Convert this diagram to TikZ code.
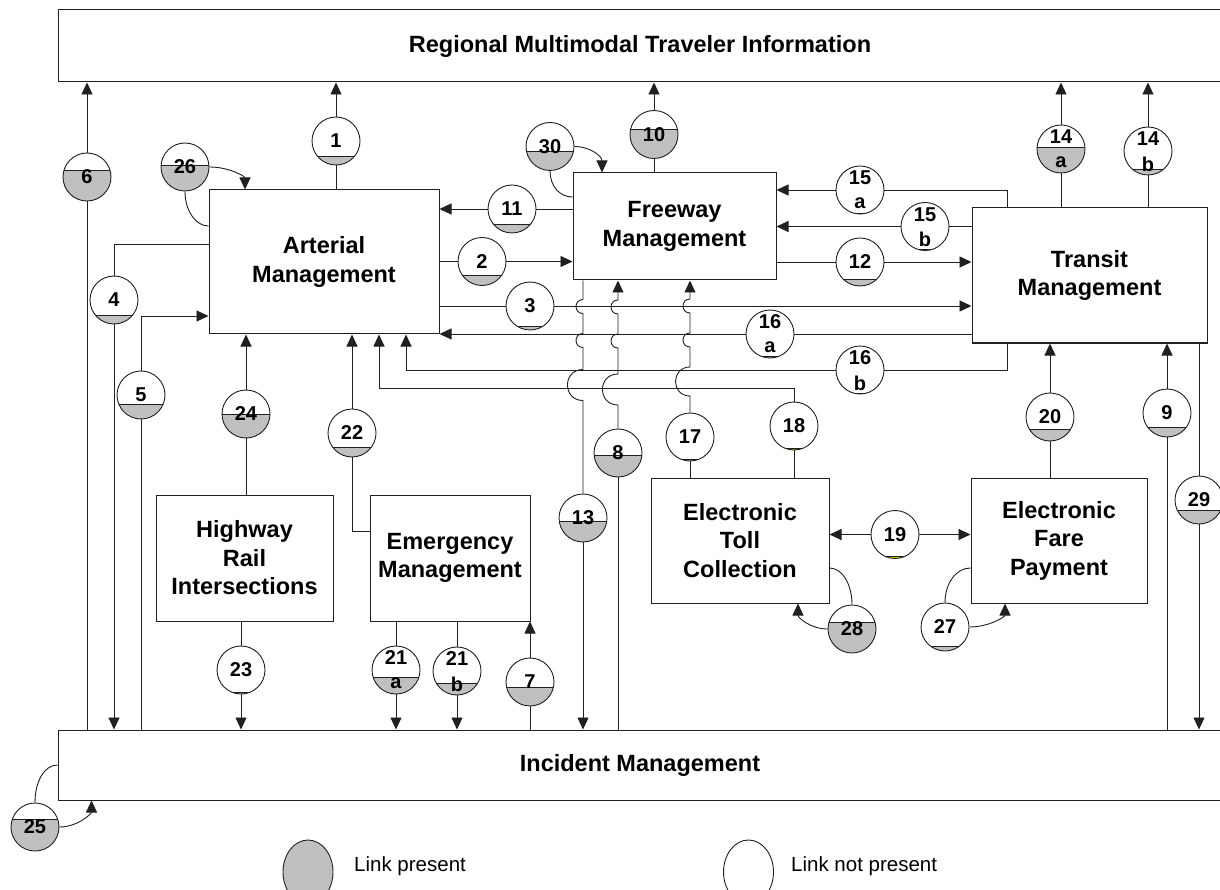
\documentclass[tikz,border=0pt]{standalone}
\usepackage{fontspec}
\setmainfont{Liberation Sans}
\usetikzlibrary{arrows.meta,shapes.geometric}
\definecolor{lp}{HTML}{C0C0C0}
\definecolor{ly}{HTML}{D8D800}
\definecolor{ln}{HTML}{202020}
\newcommand\boxfont{\bfseries\fontsize{23.5}{28.5}\selectfont}
\newcommand\numfont{\bfseries\fontsize{20}{22}\selectfont}
\newcommand\legfont{\fontsize{20.5}{24}\selectfont}
\tikzset{
  box/.style={draw=ln, line width=1pt, rectangle, inner sep=0pt, align=center, font=\boxfont},
  lk/.style={circle, draw=ln, line width=0.9pt, fill=white, minimum size=48pt, inner sep=0pt},
  num/.style={inner sep=0pt, font=\numfont},
  arr/.style={-{Triangle[length=12pt,width=11pt]}},
  conn/.style={draw=ln, line width=0.9pt}
}
\newcommand\lnk[6]{%
  \node[lk, path picture={
     \fill[#6] ([shift={(-30,#4)}]path picture bounding box.center) rectangle ([shift={(30,30)}]path picture bounding box.center);
     \draw[ln, line width=0.8pt] ([shift={(-30,#4)}]path picture bounding box.center) -- ([shift={(30,#4)}]path picture bounding box.center);
  }] (#1) at (#2,#3) {};
  \node[num] (#1t) at (#1.center) {#5};
}
\newcommand\lnkk[7]{%
  \node[lk, path picture={
     \fill[#7] ([shift={(-30,#4)}]path picture bounding box.center) rectangle ([shift={(30,30)}]path picture bounding box.center);
     \draw[ln, line width=0.8pt] ([shift={(-30,#4)}]path picture bounding box.center) -- ([shift={(30,#4)}]path picture bounding box.center);
  }] (#1) at (#2,#3) {};
  \node[num] (#1n) at ([yshift=12pt]#1.center) {#5};
  \node[num] (#1l) at ([yshift=-13pt]#1.center) {#6};
}
\begin{document}
\begin{tikzpicture}[x=1pt,y=-1pt]
\useasboundingbox (0,0) rectangle (1220,890);
\fill[white] (0,0) rectangle (1220,890);
\clip (0,0) rectangle (1220,890);

% boxes
\node[box, minimum width=1164pt, minimum height=72pt] (reg) at (640,46) {Regional Multimodal Traveler Information};
\node[box, minimum width=1164pt, minimum height=70pt] (inc) at (640,765) {Incident Management};
\node[box, minimum width=230pt, minimum height=144pt] (art) at (324,262) {Arterial\\Management};
\node[box, minimum width=203pt, minimum height=107pt] (fwy) at (674.5,226.5) {Freeway\\Management};
\node[box, minimum width=235pt, minimum height=135pt] (trn) at (1089.5,275.5) {Transit\\Management};
\node[box, minimum width=177pt, minimum height=126pt] (hri) at (244.5,558) {Highway\\Rail\\Intersections};
\node[box, minimum width=160pt, minimum height=126pt] (emg) at (450,558) {Emergency\\Management};
\node[box, minimum width=178pt, minimum height=125pt] (etc) at (740,540.5) {Electronic\\Toll\\Collection};
\node[box, minimum width=176pt, minimum height=125pt] (efp) at (1059,540.5) {Electronic\\Fare\\Payment};

% link circles
\lnk{c1}{336}{141}{15}{1}{lp}
\lnk{c6}{87}{177}{-7}{6}{lp}
\lnk{c26}{185}{167}{-2}{26}{lp}
\lnk{c4}{114}{300}{15}{4}{lp}
\lnk{c5}{141}{395}{9}{5}{lp}
\lnk{c24}{246}{414}{0}{24}{lp}
\lnk{c22}{352}{433}{14.5}{22}{lp}
\lnk{c23}{241}{670}{22}{23}{lp}
\lnkk{c21a}{396}{670}{7}{21}{a}{lp}
\lnkk{c21b}{457}{671}{12}{21}{b}{lp}
\lnk{c7}{530}{682}{5}{7}{lp}
\lnk{c13}{583}{518}{3}{13}{lp}
\lnk{c8}{618}{453}{2}{8}{lp}
\lnk{c17}{690}{437}{22}{17}{lp}
\lnk{c18}{794}{426}{22}{18}{ly}
\lnk{c19}{895}{534.5}{22}{19}{ly}
\lnk{c20}{1050}{417}{12}{20}{lp}
\lnk{c9}{1167}{413}{14.5}{9}{lp}
\lnk{c29}{1199}{500}{10}{29}{lp}
\lnk{c28}{852}{629}{-7}{28}{lp}
\lnk{c27}{945}{627}{19}{27}{lp}
\lnk{c10}{654}{134.5}{-5}{10}{lp}
\lnk{c30}{550}{146.5}{5}{30}{lp}
\lnk{c11}{512}{209}{15}{11}{lp}
\lnk{c2}{482}{261.5}{14}{2}{lp}
\lnk{c3}{530}{306}{20}{3}{lp}
\lnkk{c16a}{770}{334}{22.5}{16}{a}{lp}
\lnkk{c15a}{860}{190}{23}{15}{a}{ly}
\lnkk{c15b}{925}{226.5}{23}{15}{b}{lp}
\lnk{c12}{860}{262}{17}{12}{lp}
\lnkk{c16b}{860}{370}{23}{16}{b}{lp}
\lnkk{c14a}{1061}{149}{-2}{14}{a}{lp}
\lnkk{c14b}{1148}{151}{18}{14}{b}{lp}
\lnk{c25}{35}{827}{-7.5}{25}{lp}

% connectors
% 1
\draw[conn] (art.north -| c1) -- (c1);
\draw[conn,arr] (c1) -- (reg.south -| c1);
% 6
\draw[conn] (inc.north -| c6) -- (c6);
\draw[conn,arr] (c6) -- (reg.south -| c6);
% 26
\draw[conn] ([yshift=36pt]art.west) .. controls +(-13,0) and +(0,19) .. (c26.south);
\draw[conn,arr] (c26.east) .. controls +(20,0) and +(0,-13) .. ([xshift=-79pt]art.north);
% 4
\draw[conn] ([yshift=18pt]art.west) -| (c4);
\draw[conn,arr] (c4) -- (inc.north -| c4);
% 5
\draw[conn] (inc.north -| c5) -- (c5);
\draw[conn,arr] (c5) |- ([yshift=-54pt]art.west);
% 24
\draw[conn] (hri.north -| c24) -- (c24);
\draw[conn,arr] (c24) -- (art.south -| c24);
% 22
\draw[conn] ([yshift=26.5pt]emg.west) -| (c22);
\draw[conn,arr] (c22) -- (art.south -| c22);
% 23
\draw[conn] (hri.south -| c23) -- (c23);
\draw[conn,arr] (c23) -- (inc.north -| c23);
% 21a 21b
\draw[conn] (emg.south -| c21a) -- (c21a);
\draw[conn,arr] (c21a) -- (inc.north -| c21a);
\draw[conn] (emg.south -| c21b) -- (c21b);
\draw[conn,arr] (c21b) -- (inc.north -| c21b);
% 7
\draw[conn] (inc.north -| c7) -- (c7);
\draw[conn,arr] (c7) -- (emg.south -| c7);
% 11
\draw[conn] (fwy.west |- c11) -- (c11);
\draw[conn,arr] (c11) -- (art.east |- c11);
% 2
\draw[conn] (art.east |- c2) -- (c2);
\draw[conn,arr] (c2) -- (fwy.west |- c2);
% 3
\draw[conn] (art.east |- c3) -- (c3);
\draw[conn,arr] (c3) -- (trn.west |- c3);
% 16a
\draw[conn] (trn.west |- c16a) -- (c16a);
\draw[conn,arr] (c16a) -- (art.east |- c16a);
% 16b
\draw[conn] ([xshift=-82.5pt]trn.south) |- (c16b);
\draw[conn,arr] (c16b) -| ([xshift=82pt]art.south);
% 12
\draw[conn] (fwy.east |- c12) -- (c12);
\draw[conn,arr] (c12) -- (trn.west |- c12);
% 15a
\draw[conn] ([xshift=-82.5pt]trn.north) |- (c15a);
\draw[conn,arr] (c15a) -- (fwy.east |- c15a);
% 15b
\draw[conn] (trn.west |- c15b) -- (c15b);
\draw[conn,arr] (c15b) -- (fwy.east |- c15b);
% 14a 14b
\draw[conn] (trn.north -| c14a) -- (c14a);
\draw[conn,arr] (c14a) -- (reg.south -| c14a);
\draw[conn] (trn.north -| c14b) -- (c14b);
\draw[conn,arr] (c14b) -- (reg.south -| c14b);
% 10
\draw[conn] (fwy.north -| c10) -- (c10);
\draw[conn,arr] (c10) -- (reg.south -| c10);
% 30
\draw[conn] ([yshift=29.5pt]fwy.west) .. controls +(-13,0) and +(0,15) .. (c30.south);
\draw[conn,arr] (c30.east) .. controls +(15.5,0) and +(0,-16.5) .. ([xshift=-72.5pt]fwy.north);
% 18
\coordinate (h18) at (0,388);
\draw[conn] (etc.north -| c18) -- (c18);
\draw[conn,arr] (c18) -- (c18 |- h18) -| ([xshift=55pt]art.south);
% 20
\draw[conn] (efp.north -| c20) -- (c20);
\draw[conn,arr] (c20) -- (trn.south -| c20);
% 9
\draw[conn] (inc.north -| c9) -- (c9);
\draw[conn,arr] (c9) -- (trn.south -| c9);
% 29
\draw[conn] (trn.south -| c29) -- (c29);
\draw[conn,arr] (c29) -- (inc.north -| c29);
% 19
\draw[conn,arr] (c19) -- (etc.east |- c19);
\draw[conn,arr] (c19) -- (efp.west |- c19);
% 28
\draw[conn] ([yshift=-27.5pt]etc.east) .. controls +(12.7,0) and +(0,-20.4) .. (c28.north);
\draw[conn,arr] (c28.west) .. controls +(-16.6,0) and +(0,14.4) .. ([xshift=58pt]etc.south);
% 27
\draw[conn] ([yshift=-27.5pt]efp.west) .. controls +(-14.4,0) and +(0,-19.3) .. (c27.north);
\draw[conn,arr] (c27.east) .. controls +(19.9,0) and +(0,13.2) .. ([xshift=-54pt]efp.south);
% 25
\draw[conn] (inc.west) .. controls +(-13.2,0) and +(0,-21) .. (c25.north);
\draw[conn,arr] (c25.east) .. controls +(18.2,0) and +(0,13.2) .. ([xshift=34pt]inc.south west);
% 13 (down, with line jumps)
\draw[conn] (fwy.south -| c13) -- ++(0,19)
  .. controls +(-9.3,0) and +(-9.3,0) .. ++(0,14) -- ++(0,20)
  .. controls +(-9.3,0) and +(-9.3,0) .. ++(0,14) -- ++(0,22)
  .. controls +(-20.7,0) and +(-20.7,0) .. ++(0,31) -- (c13);
\draw[conn,arr] (c13) -- (inc.north -| c13);
% 8 (up, with line jumps)
\coordinate (j8) at (0,405);
\draw[conn] (inc.north -| c8) -- (c8);
\draw[conn,arr] (c8) -- (c8 |- j8)
  .. controls +(-20.7,0) and +(-20.7,0) .. ++(0,-31) -- ++(0,-26)
  .. controls +(-9.3,0) and +(-9.3,0) .. ++(0,-14) -- ++(0,-20)
  .. controls +(-9.3,0) and +(-9.3,0) .. ++(0,-14) -- (fwy.south -| c8);
% 17 (up, with line jumps)
\coordinate (j17) at (0,396);
\draw[conn] (etc.north -| c17) -- (c17);
\draw[conn,arr] (c17) -- (c17 |- j17)
  .. controls +(-19.3,0) and +(-19.3,0) .. ++(0,-29) -- ++(0,-20)
  .. controls +(-9.3,0) and +(-9.3,0) .. ++(0,-14) -- ++(0,-20)
  .. controls +(-9.3,0) and +(-9.3,0) .. ++(0,-14) -- (fwy.south -| c17);

% legend
\node[draw=ln, line width=0.9pt, ellipse, fill=lp, minimum width=50pt, minimum height=64pt, inner sep=0pt] (legp) at (308,872) {};
\node[anchor=west, inner sep=0pt, font=\legfont] (legpt) at (354,866) {Link present};
\node[draw=ln, line width=0.9pt, ellipse, fill=white, minimum width=50pt, minimum height=64pt, inner sep=0pt] (legn) at (748.5,872) {};
\node[anchor=west, inner sep=0pt, font=\legfont] (legnt) at (791,866) {Link not present};
\end{tikzpicture}
\end{document}
